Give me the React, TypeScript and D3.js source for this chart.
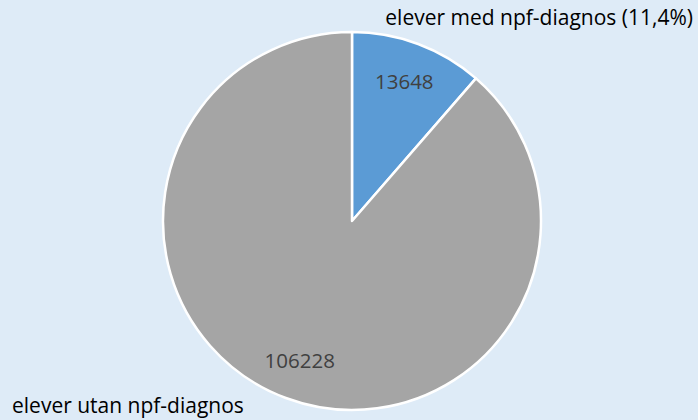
import { useEffect, useRef } from "react";
import * as d3 from "d3";

const categories = ["elever med npf-diagnos", "elever utan npf-diagnos"];
const values = [13648, 106228];
const colors = ["#5B9BD5", "#A5A5A5"];

const width = 698;
const height = 420;
const font = "'Open Sans', sans-serif";

const App = () => {
  const ref = useRef<SVGSVGElement | null>(null);

  useEffect(() => {
    const cx = 352;
    const cy = 221;
    const radius = 189;

    const svg = d3.select(ref.current);
    svg.selectAll("*").remove();

    svg
      .append("rect")
      .attr("width", width)
      .attr("height", height)
      .attr("fill", "#DEEBF7");

    const total = d3.sum(values);
    const pie = d3.pie<number>().sort(null).value((d) => d);
    const arcs = pie(values);

    const arc = d3.arc<d3.PieArcDatum<number>>().innerRadius(0).outerRadius(radius);
    const labelArc = d3
      .arc<d3.PieArcDatum<number>>()
      .innerRadius(radius * 0.79)
      .outerRadius(radius * 0.79);

    const g = svg.append("g").attr("transform", `translate(${cx},${cy})`);

    g.selectAll("path")
      .data(arcs)
      .join("path")
      .attr("d", arc)
      .attr("fill", (_, i) => colors[i])
      .attr("stroke", "#fff")
      .attr("stroke-width", 2.5)
      .attr("stroke-linejoin", "round");

    g.selectAll("text.val")
      .data(arcs)
      .join("text")
      .attr("class", "val")
      .attr("transform", (d) => `translate(${labelArc.centroid(d)})`)
      .attr("text-anchor", "middle")
      .attr("dy", "0.36em")
      .attr("font-family", font)
      .attr("font-size", 20.5)
      .attr("fill", "#404040")
      .text((d) => String(d.data));

    const pct = d3.format(".1f")((values[0] / total) * 100).replace(".", ",");

    svg
      .append("text")
      .attr("x", 693)
      .attr("y", 25)
      .attr("text-anchor", "end")
      .attr("font-family", font)
      .attr("font-size", 21)
      .attr("fill", "#000")
      .text(`${categories[0]} (${pct}%)`);

    svg
      .append("text")
      .attr("x", 12)
      .attr("y", 413)
      .attr("font-family", font)
      .attr("font-size", 21)
      .attr("fill", "#000")
      .text(categories[1]);
  }, []);

  return (
    <svg
      ref={ref}
      width={width}
      height={height}
      style={{ position: "fixed", left: 0, top: 0 }}
    ></svg>
  );
};

export default App;
